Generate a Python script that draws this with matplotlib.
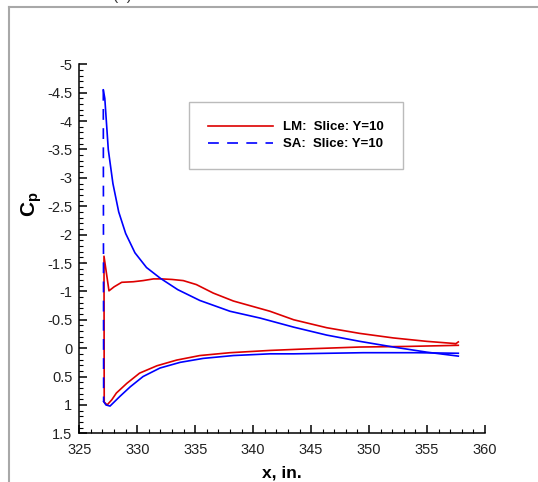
import matplotlib
matplotlib.use('Agg')
import matplotlib.pyplot as plt
from matplotlib.lines import Line2D
from matplotlib.ticker import MultipleLocator, FuncFormatter

'''
Surface pressure coefficient along the Y=10 slice, LM vs SA turbulence models.
Values read off the reference plot.
'''

plt.rcParams['font.family'] = ['Liberation Sans', 'DejaVu Sans']
plt.rcParams['axes.unicode_minus'] = False
plt.rcParams['mathtext.fontset'] = 'custom'
plt.rcParams['mathtext.bf'] = 'Liberation Sans:bold'
plt.rcParams['mathtext.rm'] = 'Liberation Sans'

# LM model, upper and lower surface (leading edge -> trailing edge)
lm_upper_x = [327.13, 327.56, 328.0, 328.66, 329.66, 330.5, 331.4, 332.1, 333.0, 333.97,
              335.1, 336.56, 338.3, 339.7, 341.45, 343.5, 346.35, 349.2, 352.1, 354.97,
              357.5, 357.7]
lm_upper_cp = [-1.62, -1.01, -1.08, -1.16, -1.17, -1.19, -1.22, -1.22, -1.21, -1.19,
               -1.12, -0.97, -0.83, -0.75, -0.65, -0.50, -0.36, -0.26, -0.18, -0.12,
               -0.08, -0.11]
lm_lower_x = [327.15, 327.4, 327.8, 328.2, 329.1, 330.2, 331.7, 333.4, 335.4, 338.0,
              341.45, 345.0, 349.2, 353.2, 357.7]
lm_lower_cp = [0.95, 1.0, 0.91, 0.79, 0.62, 0.44, 0.31, 0.21, 0.13, 0.08,
               0.04, 0.01, -0.02, -0.03, -0.05]

# SA model, upper and lower surface (leading edge -> trailing edge)
sa_upper_x = [327.07, 327.2, 327.5, 327.9, 328.4, 329.0, 329.8, 330.8, 332.0, 333.5,
              335.4, 338.0, 340.6, 343.5, 346.35, 349.2, 352.1, 354.97, 357.7]
sa_upper_cp = [-4.55, -4.40, -3.50, -2.90, -2.40, -2.02, -1.68, -1.42, -1.23, -1.03,
               -0.84, -0.65, -0.53, -0.37, -0.23, -0.12, -0.02, 0.07, 0.14]
sa_lower_x = [327.1, 327.3, 327.65, 328.0, 328.5, 329.4, 330.5, 331.96, 333.7, 335.7,
              338.3, 341.45, 343.5, 349.5, 354.0, 357.7]
sa_lower_cp = [0.94, 1.0, 1.02, 0.95, 0.85, 0.68, 0.50, 0.35, 0.25, 0.18,
               0.13, 0.10, 0.10, 0.08, 0.08, 0.09]

labels = ['LM:  Slice: Y=10', 'SA:  Slice: Y=10']
red = '#dd0000'
blue = '#0000ff'

fig = plt.figure(figsize=(5.38, 4.82), dpi=100)
ax = fig.add_axes([0.1474, 0.101, 0.754, 0.7656])

# LM: one closed curve around the section
lm_x = lm_upper_x[::-1] + lm_lower_x
lm_cp = lm_upper_cp[::-1] + lm_lower_cp
ax.plot(lm_x, lm_cp, color=red, lw=1.2)

# SA: surfaces solid, the long leading-edge jump shows the dash pattern
ax.plot(sa_upper_x, sa_upper_cp, color=blue, lw=1.2)
ax.plot(sa_lower_x, sa_lower_cp, color=blue, lw=1.2)
ax.plot([sa_upper_x[0], sa_lower_x[0]], [sa_upper_cp[0], sa_lower_cp[0]],
        color=blue, lw=1.2, dashes=(6.5, 5))

ax.set_xlim(325, 360)
ax.set_ylim(1.5, -5)
ax.xaxis.set_major_locator(MultipleLocator(5))
ax.xaxis.set_minor_locator(MultipleLocator(1))
ax.yaxis.set_major_locator(MultipleLocator(0.5))
ax.yaxis.set_minor_locator(MultipleLocator(0.1))
ax.yaxis.set_major_formatter(FuncFormatter(lambda v, p: f'{v:g}'))

for s in ['top', 'right']:
    ax.spines[s].set_visible(False)
for s in ['left', 'bottom']:
    ax.spines[s].set_linewidth(1.1)
ax.tick_params(which='major', direction='in', length=6, width=1.1,
               labelsize=10.5, labelcolor='#222222')
ax.tick_params(which='minor', direction='in', length=3, width=0.8)
ax.tick_params(axis='x', pad=7)
ax.tick_params(axis='y', pad=5)

ax.set_xlabel('x, in.', fontsize=12.5, fontweight='bold', labelpad=6)
ax.set_ylabel(r'$\mathbf{C_p}$', fontsize=15, rotation=90)
ax.yaxis.set_label_coords(-0.088, 0.62)

handles = [Line2D([], [], color=red, lw=1.2),
           Line2D([], [], color=blue, lw=1.2, dashes=(6.5, 5))]
leg = ax.legend(handles, labels, loc='upper left',
                bbox_to_anchor=(189 / 538, 1 - 102 / 482),
                bbox_transform=fig.transFigure, borderaxespad=0,
                fancybox=False, edgecolor='#bbbbbb', framealpha=1,
                handlelength=4.9, handletextpad=0.8, borderpad=1.45,
                labelspacing=0.35, prop={'size': 9.5, 'weight': 'bold'})
leg.get_frame().set_linewidth(1.0)

# screenshot frame and clipped panel title
fig.add_artist(Line2D([9 / 538, 1], [1 - 7 / 482, 1 - 7 / 482],
                      color='#a8a8a8', lw=1.5))
fig.add_artist(Line2D([9 / 538, 9 / 538], [0, 1 - 7 / 482],
                      color='#a8a8a8', lw=1.5))
fig.text(122 / 538, 1.0, '(a)', fontsize=11, ha='center', va='baseline',
         color='#333333')

fig.savefig('out.png', dpi=100)
